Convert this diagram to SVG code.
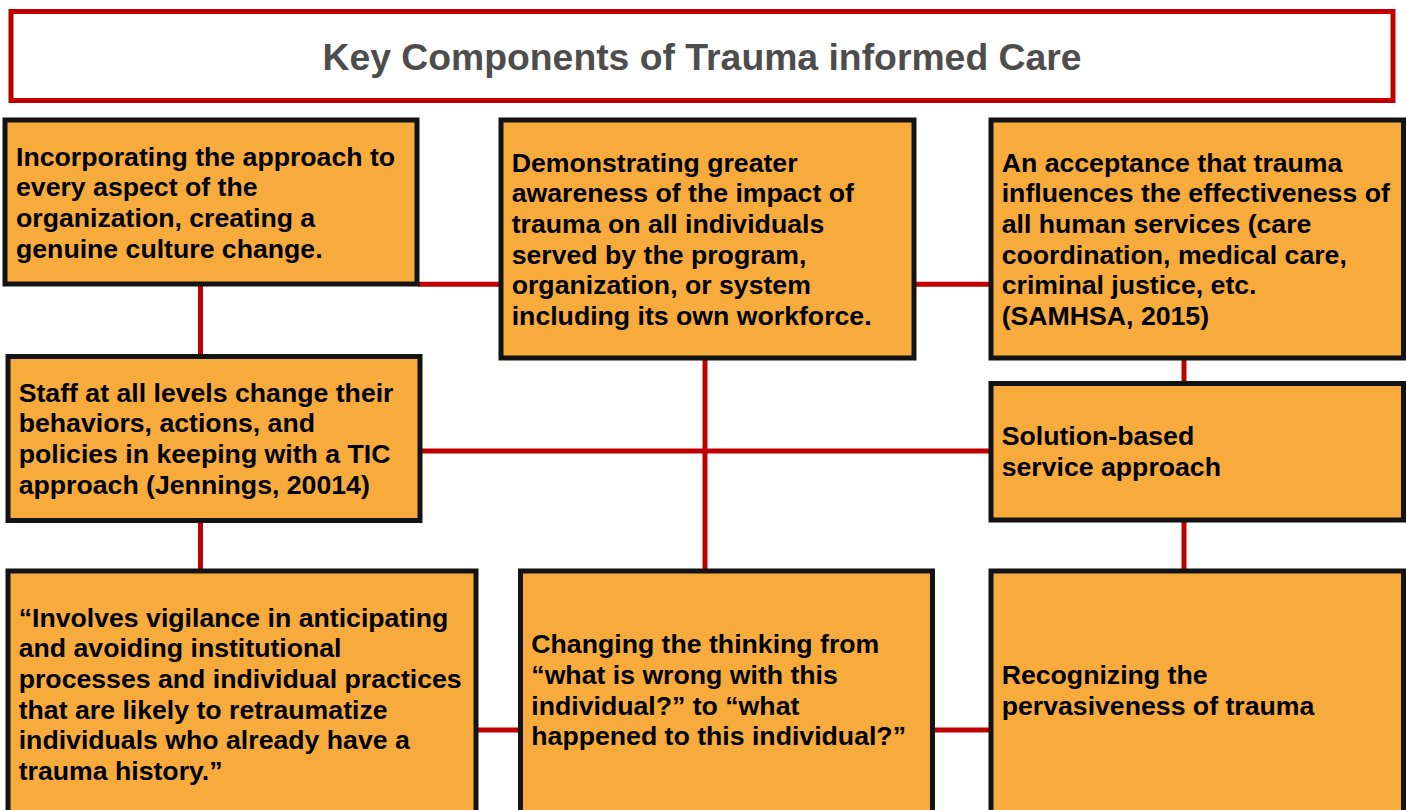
<svg xmlns="http://www.w3.org/2000/svg" width="1406" height="810" viewBox="0 0 1406 810">
<style>
.box{fill:#f7ab3d;stroke:#131313;stroke-width:5}
.t{font-family:"Liberation Sans",Arial,sans-serif;font-weight:bold;font-size:26.67px;fill:#000}
.title{font-family:"Liberation Sans",Arial,sans-serif;font-weight:bold;font-size:37.33px;fill:#4d4d4d}
.c{stroke:#c00000;stroke-width:5;fill:none}
</style>
<rect width="1406" height="810" fill="#fff"/>
<g id="connectors">
<line class="c" x1="418" y1="284.3" x2="500" y2="284.3"/>
<line class="c" x1="915" y1="284.3" x2="990" y2="284.3"/>
<line class="c" x1="200.5" y1="286" x2="200.5" y2="355"/>
<line class="c" x1="200.5" y1="522" x2="200.5" y2="569"/>
<line class="c" x1="421" y1="451" x2="990" y2="451"/>
<line class="c" x1="705" y1="360" x2="705" y2="569"/>
<line class="c" x1="1184" y1="360" x2="1184" y2="382"/>
<line class="c" x1="1184" y1="522" x2="1184" y2="569"/>
<line class="c" x1="477" y1="730" x2="519" y2="730"/>
<line class="c" x1="934" y1="730" x2="990" y2="730"/>
</g>
<g id="title">
<rect x="11" y="11.5" width="1382" height="89" fill="#fff" stroke="#c00000" stroke-width="5"/>
<text class="title" x="702" y="70" text-anchor="middle">Key Components of Trauma informed Care</text>
</g>
<g id="n1">
<rect class="box" x="5" y="120" width="412" height="164"/>
<text class="t" x="16" y="165.7"><tspan x="16">Incorporating the approach to</tspan><tspan x="16" dy="30.67">every aspect of the</tspan><tspan x="16" dy="30.67">organization, creating a</tspan><tspan x="16" dy="30.67">genuine culture change.</tspan></text>
</g>
<g id="n2">
<rect class="box" x="501" y="120" width="413" height="238"/>
<text class="t" x="511.7" y="171.7"><tspan x="511.7">Demonstrating greater</tspan><tspan x="511.7" dy="30.67">awareness of the impact of</tspan><tspan x="511.7" dy="30.67">trauma on all individuals</tspan><tspan x="511.7" dy="30.67">served by the program,</tspan><tspan x="511.7" dy="30.67">organization, or system</tspan><tspan x="511.7" dy="30.67">including its own workforce.</tspan></text>
</g>
<g id="n3">
<rect class="box" x="991" y="120" width="412.5" height="238"/>
<text class="t" x="1001.7" y="171.7"><tspan x="1001.7">An acceptance that trauma</tspan><tspan x="1001.7" dy="30.67">influences the effectiveness of</tspan><tspan x="1001.7" dy="30.67">all human services (care</tspan><tspan x="1001.7" dy="30.67">coordination, medical care,</tspan><tspan x="1001.7" dy="30.67">criminal justice, etc.</tspan><tspan x="1001.7" dy="30.67">(SAMHSA, 2015)</tspan></text>
</g>
<g id="n4">
<rect class="box" x="8" y="356.5" width="412" height="164"/>
<text class="t" x="18.7" y="401.7"><tspan x="18.7">Staff at all levels change their</tspan><tspan x="18.7" dy="30.67">behaviors, actions, and</tspan><tspan x="18.7" dy="30.67">policies in keeping with a TIC</tspan><tspan x="18.7" dy="30.67">approach (Jennings, 20014)</tspan></text>
</g>
<g id="n5">
<rect class="box" x="991" y="383.5" width="412.5" height="136.5"/>
<text class="t" x="1001.7" y="445"><tspan x="1001.7">Solution-based</tspan><tspan x="1001.7" dy="30.67">service approach</tspan></text>
</g>
<g id="n6">
<rect class="box" x="8" y="571" width="468" height="260"/>
<text class="t" x="18.7" y="626.7"><tspan x="18.7">“Involves vigilance in anticipating</tspan><tspan x="18.7" dy="30.67">and avoiding institutional</tspan><tspan x="18.7" dy="30.67">processes and individual practices</tspan><tspan x="18.7" dy="30.67">that are likely to retraumatize</tspan><tspan x="18.7" dy="30.67">individuals who already have a</tspan><tspan x="18.7" dy="30.67">trauma history.”</tspan></text>
</g>
<g id="n7">
<rect class="box" x="520.5" y="571" width="412" height="260"/>
<text class="t" x="531.3" y="653.3"><tspan x="531.3">Changing the thinking from</tspan><tspan x="531.3" dy="30.67">“what is wrong with this</tspan><tspan x="531.3" dy="30.67">individual?” to “what</tspan><tspan x="531.3" dy="30.67">happened to this individual?”</tspan></text>
</g>
<g id="n8">
<rect class="box" x="991" y="571" width="412.5" height="260"/>
<text class="t" x="1001.7" y="684"><tspan x="1001.7">Recognizing the</tspan><tspan x="1001.7" dy="30.67">pervasiveness of trauma</tspan></text>
</g>
</svg>
